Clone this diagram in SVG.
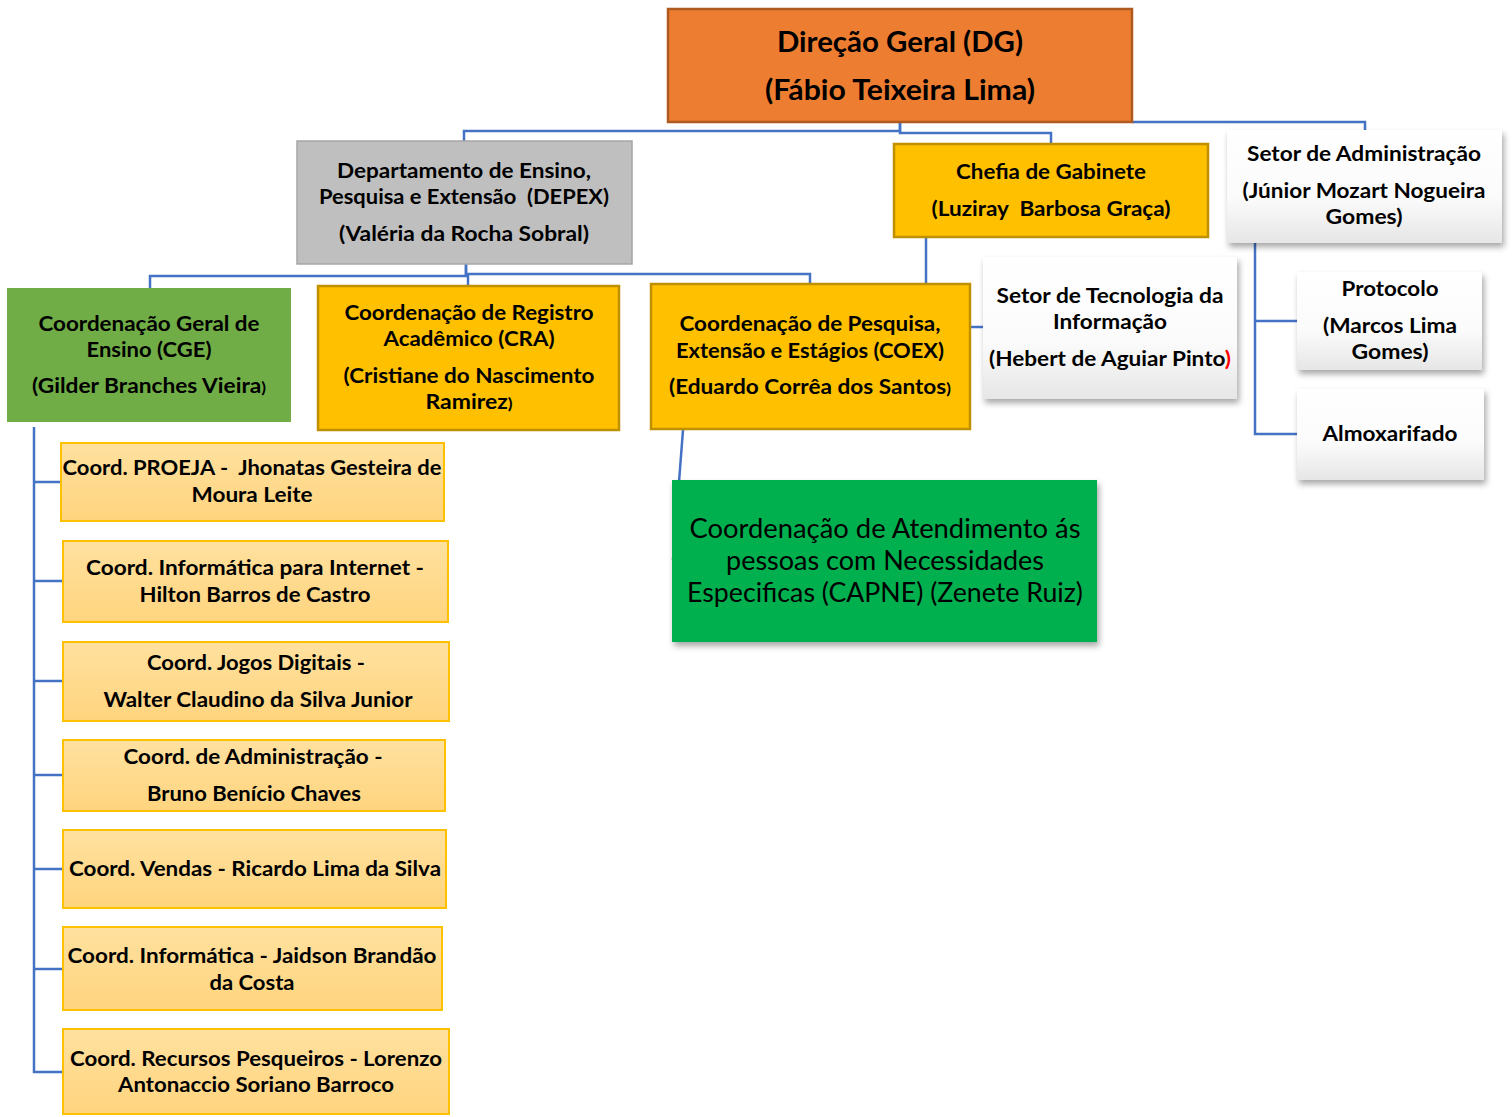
<svg xmlns="http://www.w3.org/2000/svg" width="1512" height="1117" viewBox="0 0 1512 1117">
<defs>
<linearGradient id="gw" x1="0" y1="0" x2="0" y2="1"><stop offset="0" stop-color="#FFFFFF"/><stop offset="0.6" stop-color="#FBFBFB"/><stop offset="1" stop-color="#E6E6E6"/></linearGradient>
<linearGradient id="go" x1="0" y1="0" x2="0" y2="1"><stop offset="0" stop-color="#FFE19F"/><stop offset="1" stop-color="#FFD47E"/></linearGradient>
<filter id="sh" x="-10%" y="-10%" width="125%" height="130%"><feDropShadow dx="2" dy="4" stdDeviation="3" flood-color="#000" flood-opacity="0.35"/></filter>
</defs>
<style>
text{font-family:Lato,"Open Sans","Liberation Sans",sans-serif;font-weight:bold;fill:#000;text-anchor:middle;white-space:pre}
.t{font-size:21px}
.big{font-size:28px}
.n{font-weight:normal;font-size:26px}
.con{fill:none;stroke:#4472C4;stroke-width:2.5}
.or{fill:#FFC000;stroke:#BF9000;stroke-width:2.5}
.wh{fill:url(#gw);filter:url(#sh)}
.sub{fill:url(#go);stroke:#FFC000;stroke-width:2}
</style>
<rect width="1512" height="1117" fill="#FFFFFF"/>
<g id="connectors">
<polyline class="con" points="464,141 464,131 900,131 900,122"/>
<polyline class="con" points="900,122 900,133 1051,133 1051,144"/>
<polyline class="con" points="1132,122 1365,122 1365,130"/>
<polyline class="con" points="150,288 150,276 466,276 466,264"/>
<polyline class="con" points="466,264 466,274 810,274 810,284"/>
<line class="con" x1="468" y1="274" x2="468" y2="286"/>
<line class="con" x1="926" y1="237" x2="926" y2="284"/>
<line class="con" x1="970" y1="327" x2="983" y2="327"/>
<polyline class="con" points="1255,243 1255,434 1297,434"/>
<line class="con" x1="1255" y1="321" x2="1297" y2="321"/>
<polyline class="con" points="34,427 34,1072 63,1072"/>
<line class="con" x1="34" y1="482" x2="61" y2="482"/>
<line class="con" x1="34" y1="581" x2="63" y2="581"/>
<line class="con" x1="34" y1="681" x2="63" y2="681"/>
<line class="con" x1="34" y1="775" x2="63" y2="775"/>
<line class="con" x1="34" y1="869" x2="63" y2="869"/>
<line class="con" x1="34" y1="969" x2="63" y2="969"/>
<line class="con" x1="683" y1="430" x2="673" y2="560"/>
</g>
<g id="dg">
<rect x="668" y="9" width="464" height="113" fill="#ED7D31" stroke="#AE5A21" stroke-width="2.5"/>
<text class="big" x="900" y="52" textLength="246" lengthAdjust="spacingAndGlyphs">Direção Geral (DG)</text>
<text class="big" x="900" y="100" textLength="270" lengthAdjust="spacingAndGlyphs">(Fábio Teixeira Lima)</text>
</g>
<g id="depex">
<rect x="297" y="141" width="335" height="123" fill="#BFBFBF" stroke="#A6A6A6" stroke-width="1.5"/>
<text class="t" x="464" y="178" textLength="254" lengthAdjust="spacingAndGlyphs">Departamento de Ensino,</text>
<text class="t" x="464" y="204" textLength="290" lengthAdjust="spacingAndGlyphs">Pesquisa e Extensão  (DEPEX)</text>
<text class="t" x="464" y="241" textLength="250" lengthAdjust="spacingAndGlyphs">(Valéria da Rocha Sobral)</text>
</g>
<g id="chefia">
<rect class="or" x="894" y="144" width="314" height="93"/>
<text class="t" x="1051" y="179" textLength="190" lengthAdjust="spacingAndGlyphs">Chefia de Gabinete</text>
<text class="t" x="1051" y="216" textLength="239" lengthAdjust="spacingAndGlyphs">(Luziray  Barbosa Graça)</text>
</g>
<g id="adm">
<rect class="wh" x="1227" y="130" width="275" height="113"/>
<text class="t" x="1364" y="161" textLength="234" lengthAdjust="spacingAndGlyphs">Setor de Administração</text>
<text class="t" x="1364" y="198" textLength="243" lengthAdjust="spacingAndGlyphs">(Júnior Mozart Nogueira</text>
<text class="t" x="1364" y="224" textLength="77" lengthAdjust="spacingAndGlyphs">Gomes)</text>
</g>
<g id="cge">
<rect x="7" y="288" width="284" height="134" fill="#70AD47"/>
<text class="t" x="149" y="331" textLength="221" lengthAdjust="spacingAndGlyphs">Coordenação Geral de</text>
<text class="t" x="149" y="357" textLength="125" lengthAdjust="spacingAndGlyphs">Ensino (CGE)</text>
<text class="t" x="149" y="393" textLength="234" lengthAdjust="spacingAndGlyphs">(Gilder Branches Vieira<tspan font-size="16px">)</tspan></text>
</g>
<g id="cra">
<rect class="or" x="318" y="286" width="301" height="144"/>
<text class="t" x="469" y="320" textLength="249" lengthAdjust="spacingAndGlyphs">Coordenação de Registro</text>
<text class="t" x="469" y="346" textLength="171" lengthAdjust="spacingAndGlyphs">Acadêmico (CRA)</text>
<text class="t" x="469" y="383" textLength="251" lengthAdjust="spacingAndGlyphs">(Cristiane do Nascimento</text>
<text class="t" x="469" y="409" textLength="87" lengthAdjust="spacingAndGlyphs">Ramirez<tspan font-size="16px">)</tspan></text>
</g>
<g id="coex">
<rect class="or" x="651" y="284" width="319" height="145"/>
<text class="t" x="810" y="331" textLength="261" lengthAdjust="spacingAndGlyphs">Coordenação de Pesquisa,</text>
<text class="t" x="810" y="358" textLength="268" lengthAdjust="spacingAndGlyphs">Extensão e Estágios (COEX)</text>
<text class="t" x="810" y="394" textLength="282" lengthAdjust="spacingAndGlyphs">(Eduardo Corrêa dos Santos<tspan font-size="16px">)</tspan></text>
</g>
<g id="ti">
<rect class="wh" x="983" y="257" width="254" height="142"/>
<text class="t" x="1110" y="303" textLength="227" lengthAdjust="spacingAndGlyphs">Setor de Tecnologia da</text>
<text class="t" x="1110" y="329" textLength="114" lengthAdjust="spacingAndGlyphs">Informação</text>
<text class="t" x="1110" y="366" textLength="242" lengthAdjust="spacingAndGlyphs">(Hebert de Aguiar Pinto<tspan fill="#FF0000">)</tspan></text>
</g>
<g id="protocolo">
<rect class="wh" x="1297" y="272" width="185" height="98"/>
<text class="t" x="1390" y="296" textLength="97" lengthAdjust="spacingAndGlyphs">Protocolo</text>
<text class="t" x="1390" y="333" textLength="134" lengthAdjust="spacingAndGlyphs">(Marcos Lima</text>
<text class="t" x="1390" y="359" textLength="77" lengthAdjust="spacingAndGlyphs">Gomes)</text>
</g>
<g id="almox">
<rect class="wh" x="1297" y="389" width="187" height="91"/>
<text class="t" x="1390" y="441" textLength="135" lengthAdjust="spacingAndGlyphs">Almoxarifado</text>
</g>
<g id="capne">
<rect x="672" y="480" width="425" height="162" fill="#00B050" filter="url(#sh)"/>
<text class="n" x="885" y="538" textLength="391" lengthAdjust="spacingAndGlyphs">Coordenação de Atendimento ás</text>
<text class="n" x="885" y="570" textLength="318" lengthAdjust="spacingAndGlyphs">pessoas com Necessidades</text>
<text class="n" x="885" y="602" textLength="396" lengthAdjust="spacingAndGlyphs">Especificas (CAPNE) (Zenete Ruiz)</text>
</g>
<g id="proeja">
<rect class="sub" x="61" y="443" width="383" height="78"/>
<text class="t" x="252" y="475" textLength="379" lengthAdjust="spacingAndGlyphs">Coord. PROEJA -  Jhonatas Gesteira de</text>
<text class="t" x="252" y="502" textLength="121" lengthAdjust="spacingAndGlyphs">Moura Leite</text>
</g>
<g id="inet">
<rect class="sub" x="63" y="541" width="385" height="81"/>
<text class="t" x="255" y="575" textLength="338" lengthAdjust="spacingAndGlyphs">Coord. Informática para Internet -</text>
<text class="t" x="255" y="602" textLength="231" lengthAdjust="spacingAndGlyphs">Hilton Barros de Castro</text>
</g>
<g id="jogos">
<rect class="sub" x="63" y="642" width="386" height="79"/>
<text class="t" x="256" y="670" textLength="218" lengthAdjust="spacingAndGlyphs">Coord. Jogos Digitais -</text>
<text class="t" x="258" y="707" textLength="309" lengthAdjust="spacingAndGlyphs">Walter Claudino da Silva Junior</text>
</g>
<g id="admc">
<rect class="sub" x="63" y="740" width="382" height="71"/>
<text class="t" x="253" y="764" textLength="259" lengthAdjust="spacingAndGlyphs">Coord. de Administração -</text>
<text class="t" x="254" y="801" textLength="214" lengthAdjust="spacingAndGlyphs">Bruno Benício Chaves</text>
</g>
<g id="vendas">
<rect class="sub" x="63" y="830" width="383" height="78"/>
<text class="t" x="255" y="876" textLength="372" lengthAdjust="spacingAndGlyphs">Coord. Vendas - Ricardo Lima da Silva</text>
</g>
<g id="info">
<rect class="sub" x="63" y="927" width="379" height="83"/>
<text class="t" x="252" y="963" textLength="369" lengthAdjust="spacingAndGlyphs">Coord. Informática - Jaidson Brandão</text>
<text class="t" x="252" y="990" textLength="85" lengthAdjust="spacingAndGlyphs">da Costa</text>
</g>
<g id="pesq">
<rect class="sub" x="63" y="1029" width="386" height="85"/>
<text class="t" x="256" y="1066" textLength="372" lengthAdjust="spacingAndGlyphs">Coord. Recursos Pesqueiros - Lorenzo</text>
<text class="t" x="256" y="1092" textLength="276" lengthAdjust="spacingAndGlyphs">Antonaccio Soriano Barroco</text>
</g>
</svg>
